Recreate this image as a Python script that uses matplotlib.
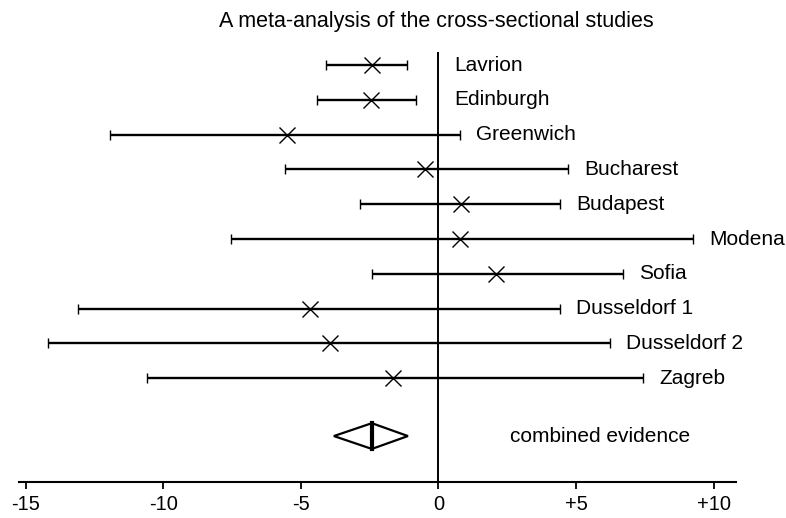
import matplotlib
matplotlib.use("Agg")
import matplotlib.pyplot as plt
from matplotlib.patches import Polygon

studies = ["Lavrion", "Edinburgh", "Greenwich", "Bucharest", "Budapest",
           "Modena", "Sofia", "Dusseldorf 1", "Dusseldorf 2", "Zagreb"]
estimate = [-2.42, -2.46, -5.52, -0.49, 0.82, 0.77, 2.08, -4.65, -3.94, -1.64]
lower = [-4.09, -4.43, -11.94, -5.58, -2.84, -7.55, -2.40, -13.10, -14.17, -10.60]
upper = [-1.14, -0.82, 0.77, 4.70, 4.43, 9.24, 6.70, 4.43, 6.24, 7.44]

combined_label = "combined evidence"
combined_est = -2.42
combined_lo = -3.80
combined_hi = -1.11

tick_values = [-15, -10, -5, 0, 5, 10]
tick_labels = ["-15", "-10", "-5", "0", "+5", "+10"]
title = "A meta-analysis of the cross-sectional studies"

plt.rcParams['font.family'] = ['Liberation Sans', 'DejaVu Sans']
FS = 15

W, H = 786, 518
fig = plt.figure(figsize=(W / 100, H / 100), dpi=100)
ax = fig.add_axes([19 / W, 36 / H, 717 / W, 430 / H])

n = len(studies)
rows = list(range(n))
comb_row = n + 0.66
ax.set_xlim(-15.24, 10.81)
ax.set_ylim(11.98, -0.374)

for s in ["top", "right", "left"]:
    ax.spines[s].set_visible(False)
ax.spines["bottom"].set_linewidth(1.5)
ax.set_yticks([])
ax.set_xticks(tick_values)
ax.set_xticklabels(tick_labels, fontsize=14.5)
ax.tick_params(axis="x", direction="out", length=5, width=1.3, pad=4)

ax.axvline(0, color="black", lw=1.4, zorder=1)

xerr = [[e - l for e, l in zip(estimate, lower)],
        [u - e for e, u in zip(estimate, upper)]]
ax.errorbar(estimate, rows, xerr=xerr, fmt="x", color="black", ms=11.5,
            mew=1.0, elinewidth=1.7, capsize=3.6, capthick=1.5, zorder=3)

for r, name, u in zip(rows, studies, upper):
    ax.annotate(name, xy=(max(u, 0), r), xytext=(11.5, 0), textcoords="offset points",
                fontsize=FS, va="center", ha="left", annotation_clip=False)

h = 0.37
diamond = Polygon([(combined_lo, comb_row), (combined_est, comb_row - h),
                   (combined_hi, comb_row), (combined_est, comb_row + h)],
                  closed=True, fill=False, edgecolor="black", lw=1.6, zorder=3)
ax.add_patch(diamond)
ax.plot([combined_est, combined_est], [comb_row - h, comb_row + h],
        color="black", lw=3, zorder=3)
ax.text(2.6, comb_row, combined_label, fontsize=FS, va="center", ha="left")

fig.text(436 / W, 1 - 22 / H, title, fontsize=15.5, ha="center", va="center")

fig.savefig("out.png", dpi=100)
